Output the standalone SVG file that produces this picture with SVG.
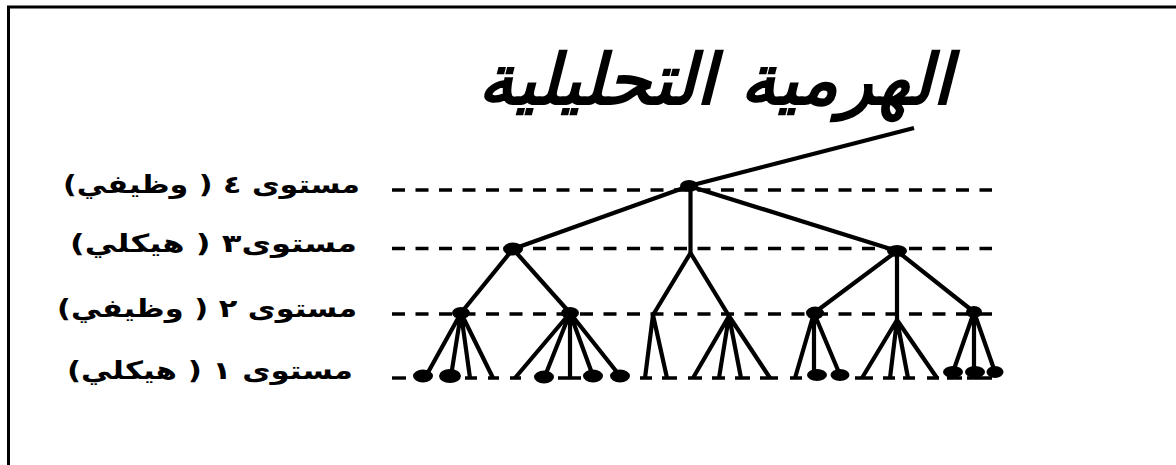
<svg xmlns="http://www.w3.org/2000/svg" width="1176" height="465" viewBox="0 0 1176 465">
<style>
.frame{fill:none;stroke:#000;stroke-width:3}
.dash{stroke:#000;stroke-width:3.4;stroke-dasharray:13 10.5;fill:none}
.edge{stroke:#000;stroke-width:4.2;fill:none;stroke-linecap:butt}
.bar{stroke:#000;stroke-width:3.4;fill:none}
.node{fill:#000}
.lbl{font-family:"DejaVu Sans",sans-serif;font-weight:bold;font-size:25px;fill:#000;direction:rtl;unicode-bidi:embed}
.title{font-family:"DejaVu Sans",sans-serif;font-weight:bold;font-style:italic;font-size:70px;fill:#000;direction:rtl;unicode-bidi:embed}
</style>
<rect width="1176" height="465" fill="#fff"/>
<path class="frame" d="M8.5,465 V7 H1176"/>
<g id="title"><text class="title" x="952" y="104" text-anchor="start" textLength="474" lengthAdjust="spacingAndGlyphs">الهرمية التحليلية</text></g>
<g id="labels">
<text class="lbl" x="360" y="193" text-anchor="start" textLength="297" lengthAdjust="spacingAndGlyphs">مستوى ٤ ( وظيفي)</text>
<text class="lbl" x="357" y="252" text-anchor="start" textLength="287" lengthAdjust="spacingAndGlyphs">مستوى٣ ( هيكلي)</text>
<text class="lbl" x="357" y="317" text-anchor="start" textLength="300" lengthAdjust="spacingAndGlyphs">مستوى ٢ ( وظيفي)</text>
<text class="lbl" x="353" y="379" text-anchor="start" textLength="286" lengthAdjust="spacingAndGlyphs">مستوى ١ ( هيكلي)</text>
</g>
<g id="levels">
<line class="dash" x1="392" y1="190" x2="992" y2="190"/>
<line class="dash" x1="392" y1="248.5" x2="992" y2="248.5"/>
<line class="dash" x1="392" y1="314" x2="992" y2="314"/>
<line class="bar" x1="392" y1="378" x2="406" y2="378"/>
</g>
<g id="connectors">
<line class="edge" x1="689" y1="186" x2="914" y2="128"/>
<line class="edge" x1="689" y1="186" x2="513" y2="249"/>
<line class="edge" x1="690.5" y1="186" x2="690.5" y2="253"/>
<line class="edge" x1="689" y1="186" x2="897" y2="251"/>
<line class="edge" x1="513" y1="249" x2="461" y2="313"/>
<line class="edge" x1="513" y1="249" x2="570" y2="313"/>
<path class="edge" d="M690.5,253 L653,315 M690.5,253 L729,316"/>
<path class="edge" d="M897,251 L814,313 M897,251 L974,312 M897,251 V320"/>
<path class="edge" d="M461,313 L426,376 M461,313 L451,376 M461,313 L470,378 M461,313 L493,378"/>
<path class="edge" d="M570,313 L515,378 M570,313 L545,376 M570,313 V378 M570,313 L593,376 M570,313 L620,376"/>
<path class="edge" d="M653,315 L645,378 M653,315 L667,378"/>
<path class="edge" d="M729,316 L693,378 M729,316 L719,378 M729,316 L741,378 M729,316 L770,378"/>
<path class="edge" d="M814,313 L795,378 M814,313 V375 M814,313 L840,375"/>
<path class="edge" d="M897,320 L862,378 M897,320 L890,378 M897,320 L908,378 M897,320 L937,378"/>
<path class="edge" d="M974,312 L953,372 M974,312 V372 M974,312 L995,372"/>
</g>
<g id="bars">
<path class="bar" d="M465,378 H477 M488,378 H499 M510,378 H521 M558,378 H581 M640,378 H652 M662,378 H677 M688,378 H702 M712,378 H725 M735,378 H750 M760,378 H778 M790,378 H802 M855,378 H873 M883,378 H895 M903,378 H915 M927,378 H939 M947,378 H962 M967,378 H992"/>
</g>
<g id="n4"><ellipse class="node" cx="689" cy="186" rx="9" ry="6"/></g>
<g id="n3a"><ellipse class="node" cx="513" cy="249" rx="10" ry="6.5"/></g>
<g id="n3c"><ellipse class="node" cx="897" cy="251" rx="10" ry="6"/></g>
<g id="n2a"><ellipse class="node" cx="461" cy="313" rx="9" ry="6"/></g>
<g id="n2b"><ellipse class="node" cx="570" cy="313" rx="9" ry="6"/></g>
<g id="n2e"><ellipse class="node" cx="815" cy="313" rx="9" ry="6.5"/></g>
<g id="n2g"><ellipse class="node" cx="974" cy="312" rx="8" ry="6"/></g>
<g id="leaves">
<ellipse class="node" cx="423" cy="376" rx="10" ry="6.5"/>
<ellipse class="node" cx="450" cy="376" rx="11" ry="7"/>
<ellipse class="node" cx="544" cy="377" rx="10" ry="6.5"/>
<ellipse class="node" cx="593" cy="376" rx="10" ry="6.5"/>
<ellipse class="node" cx="620" cy="376" rx="10" ry="6.5"/>
<ellipse class="node" cx="817" cy="375" rx="10" ry="6"/>
<ellipse class="node" cx="840" cy="375" rx="9.5" ry="6"/>
<ellipse class="node" cx="953" cy="372" rx="10" ry="6"/>
<ellipse class="node" cx="975" cy="372" rx="10" ry="6"/>
<ellipse class="node" cx="995" cy="372" rx="8.5" ry="6"/>
</g>
</svg>
